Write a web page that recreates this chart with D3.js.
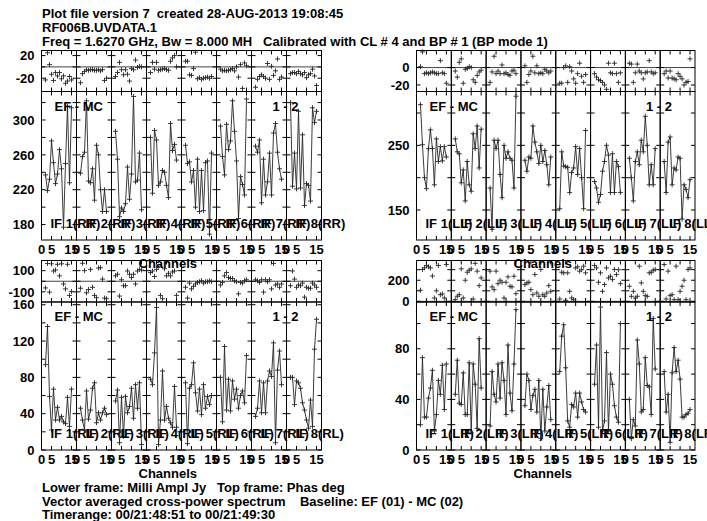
<!DOCTYPE html>
<html><head><meta charset="utf-8">
<script src="https://cdn.jsdelivr.net/npm/d3@7"></script>
<style>
html,body{margin:0;padding:0;background:#fff;}
svg text{font-family:"Liberation Sans",Arial,Helvetica,sans-serif;font-weight:bold;font-size:13px;fill:#000;white-space:pre;}
</style></head><body>
<svg id="chart" width="707" height="521"></svg>
<script>
// Channels kept per IF (edge channels 1 and 16 are dropped)
const channels = [2,3,4,5,6,7,8,9,10,11,12,13,14,15];
const ifNumbers = [1,2,3,4,5,6,7,8];
const channelTickLabels = [0,5,15];
const channelMinorTicks = [5,10,15];

const headerLines = [
  "Plot file version 7  created 28-AUG-2013 19:08:45",
  "RF006B.UVDATA.1",
  "Freq = 1.6270 GHz, Bw = 8.000 MH   Calibrated with CL # 4 and BP # 1 (BP mode 1)"
];
const footerLines = [
  "Lower frame: Milli Ampl Jy   Top frame: Phas deg",
  "Vector averaged cross-power spectrum    Baseline: EF (01) - MC (02)",
  "Timerange: 00/21:48:51 to 00/21:49:30"
];
const baselineLabel = "EF - MC";
const antennaLabel = "1 - 2";

// RR: amplitude (mJy) and phase (deg), one row per IF
const ampRR = [
  [237,219,232,276,251,227,238,266,244,177,250,316,228,314],
  [239,258,263,322,230,228,244,208,271,260,220,195,220,195],
  [287,255,189,199,195,204,246,209,238,327,229,231,262,197],
  [280,216,288,277,225,229,242,240,225,211,296,265,272,254],
  [271,250,252,229,242,200,255,195,242,196,251,253,169,262],
  [293,258,237,295,266,276,322,287,253,187,235,226,214,324],
  [270,263,277,205,255,214,229,262,214,285,296,263,244,232],
  [320,224,262,221,310,222,283,202,227,225,207,314,297,310]
];
const phaseRR = [
  [-23,25,4,-13,-24,-10,-16,-10,-21,-16,-29,-25,-17,-23],
  [-28,-12,-8,-5,-6,-5,-5,-6,-6,-5,-7,-5,-24,-20],
  [-17,-10,8,-5,-14,-5,-13,-25,-3,-5,12,-1,1,0],
  [-10,8,-4,8,-6,-5,-4,-3,-5,-6,10,16,20,0],
  [10,10,-14,-15,-3,26,-21,-19,-22,-20,-19,-18,-20,-17],
  [-4,-7,-6,-7,-6,-5,-3,-7,0,-18,4,-38,7,2],
  [-36,-22,-17,-14,-17,-20,6,-22,1,-15,-7,14,-22,-18],
  [-12,-10,-10,-12,-8,-12,-14,-10,-19,-14,-12,-4,-16,-33]
];

// LL
const ampLL = [
  [313,251,200,183,245,274,245,189,260,225,248,226,248,232],
  [260,240,237,192,212,164,225,189,179,268,245,280,215,275],
  [184,120,258,245,258,205,169,250,230,240,230,227,184,326],
  [227,210,232,230,280,255,240,222,250,225,242,220,189,232],
  [152,240,218,217,216,177,208,215,248,205,245,200,152,273],
  [194,184,162,174,210,225,250,235,177,237,177,225,217,177],
  [230,200,164,225,240,220,258,240,295,250,189,220,189,245],
  [225,177,255,263,189,215,212,232,230,136,189,182,169,197]
];
const phaseLL = [
  [1,18,-7,-6,-7,-6,-5,-6,-7,-7,8,-6,-7,-18],
  [-4,-11,6,10,-18,-2,-1,1,0,-14,-17,-9,-5,-3],
  [-17,-5,13,-7,-4,-7,3,-7,-6,-8,-9,-4,-3,-7],
  [2,-17,-8,-4,13,-6,2,-7,-6,-7,-2,-4,-6,-4],
  [-18,-18,0,2,-17,1,-4,-13,-18,-7,5,-10,-17,-8],
  [-7,-11,-14,-15,-17,-20,-25,5,-6,-7,5,-7,-17,-6],
  [5,4,-17,-6,4,-4,-6,-13,-6,-5,8,-5,-7,-6],
  [-7,-4,-12,-4,-12,-13,-14,-7,-10,-13,-20,-17,-16,10]
];

// RL
const ampRL = [
  [94,136,59,22,67,33,47,33,37,31,29,58,26,67],
  [46,33,22,65,34,44,68,74,30,41,33,41,46,39],
  [54,66,8,58,15,59,41,48,68,35,72,46,74,6],
  [78,72,107,157,6,33,87,33,48,35,30,25,70,25],
  [74,7,68,72,96,63,43,67,39,72,46,59,50,60],
  [80,31,114,44,78,43,76,56,67,46,60,65,52,104],
  [37,46,76,41,74,41,76,87,81,118,8,88,109,72],
  [80,80,50,76,74,68,52,44,33,24,55,26,111,144]
];
const phaseRL = [
  [-63,168,-103,165,97,106,160,51,165,-26,-72,160,-134,-97],
  [-66,170,100,-109,-78,112,-57,-134,-155,125,128,20,-159,-165],
  [51,66,-140,14,-42,-42,97,66,35,66,-26,97,112,106],
  [82,97,45,112,143,-134,-165,118,51,75,51,88,97,-134],
  [-57,-159,-17,-72,-48,-26,-11,-5,5,-17,-5,-5,4,-3],
  [-35,-11,51,82,35,26,26,5,-5,-119,-11,-17,5,14],
  [14,5,-11,14,-103,14,-5,14,-72,168,-35,-26,-57,-26],
  [-42,97,20,-57,-35,-42,-17,-150,-57,-66,-66,-17,-35,-57]
];

// LR
const ampLR = [
  [20,73,26,26,41,49,63,15,28,55,44,67,32,68],
  [44,71,37,36,61,28,28,69,14,68,52,17,88,49],
  [19,62,44,38,68,41,69,55,28,83,45,31,68,111],
  [35,60,55,32,43,48,30,55,9,48,15,34,51,24],
  [62,90,99,65,23,18,36,34,45,26,45,38,32,30],
  [52,83,18,113,15,23,77,15,60,52,35,26,22,100],
  [40,9,24,19,87,68,30,32,73,51,50,28,104,64],
  [62,30,44,6,61,81,62,71,56,26,26,28,29,32]
];
const phaseLR = [
  [105,302,317,340,327,317,240,32,100,340,63,70,32,349],
  [16,48,63,308,32,200,276,295,308,22,360,286,149,222],
  [286,137,111,286,168,200,181,32,181,232,143,137,238,73],
  [159,175,181,111,63,254,79,48,302,63,48,79,149,95],
  [22,276,270,10,270,95,32,16,317,327,286,300,333,270],
  [340,317,181,270,95,159,317,222,238,206,302,254,300,168],
  [143,48,95,32,48,333,175,95,54,48,270,276,295,302],
  [349,22,286,54,63,16,333,16,95,143,200,16,302,317]
];

// Axis ticks and labelled values for each polarization
const ampTicksRR = [180,200,220,240,260,280,300,320], ampLabelsRR = [180,220,260,300];
const phaseTicksRR = [-20,0,20], phaseLabelsRR = [20,-20];
const ampTicksLL = [150,200,250,300], ampLabelsLL = [150,250];
const phaseTicksLL = [-20,0], phaseLabelsLL = [0,-20];
const ampTicksRL = [0,20,40,60,80,100,120,140,160], ampLabelsRL = [0,40,80,120,160];
const phaseTicksRL = [-100,0,100], phaseLabelsRL = [100,-100];
const ampTicksLR = [0,20,40,60,80,100], ampLabelsLR = [0,40,80];
const phaseTicksLR = [0,100,200,300], phaseLabelsLR = [200,0];

// Frame geometry
const cols = { left: {x0: 41.5, x1: 321.5}, right: {x0: 416.5, x1: 695} };
const rows = { top: {p0: 50.5, p1: 91.5, a1: 240}, bottom: {p0: 260.5, p1: 302, a1: 450} };

const panels = [
  {pol:"RR", col:"left",  row:"top",    amp:ampRR, phase:phaseRR, ampDomain:[162.3,332.7], phaseDomain:[-43.5,29],
   ampTicks:ampTicksRR, ampLabels:ampLabelsRR, phaseTicks:phaseTicksRR, phaseLabels:phaseLabelsRR},
  {pol:"LL", col:"right", row:"top",    amp:ampLL, phase:phaseLL, ampDomain:[103.6,333.3], phaseDomain:[-27.5,19.6],
   ampTicks:ampTicksLL, ampLabels:ampLabelsLL, phaseTicks:phaseTicksLL, phaseLabels:phaseLabelsLL},
  {pol:"RL", col:"left",  row:"bottom", amp:ampRL, phase:phaseRL, ampDomain:[0,163], phaseDomain:[-196,196],
   ampTicks:ampTicksRL, ampLabels:ampLabelsRL, phaseTicks:phaseTicksRL, phaseLabels:phaseLabelsRL},
  {pol:"LR", col:"right", row:"bottom", amp:ampLR, phase:phaseLR, ampDomain:[0,117], phaseDomain:[-6,387],
   ampTicks:ampTicksLR, ampLabels:ampLabelsLR, phaseTicks:phaseTicksLR, phaseLabels:phaseLabelsLR}
];

const svg = d3.select("#chart");
svg.append("rect").attr("width",707).attr("height",521).attr("fill","#fff");

const ink = "#000", dataInk = "#262626", tickLen = 4, markHalf = 2.5;
const plus = `M${-markHalf},0H${markHalf}M0,${-markHalf}V${markHalf}`;

// Header and footer text (runs of spaces are kept)
svg.append("g").selectAll("text").data(headerLines).join("text")
  .attr("x", 42).attr("y", (d,i) => 18 + i*13.8).attr("xml:space", "preserve").text(d => d);
svg.append("g").selectAll("text").data(footerLines).join("text")
  .attr("x", 42).attr("y", (d,i) => 492 + i*13.6).attr("xml:space", "preserve").text(d => d);

panels.forEach(p => {
  const c = cols[p.col], r = rows[p.row];
  const w = (c.x1 - c.x0) / ifNumbers.length;
  const g = svg.append("g");
  const yA = d3.scaleLinear().domain(p.ampDomain).range([r.a1, r.p1]);
  const yP = d3.scaleLinear().domain(p.phaseDomain).range([r.p1, r.p0]);

  ifNumbers.forEach((ifn, i) => {
    const sx0 = c.x0 + i*w;
    const x = d3.scaleLinear().domain([0, 17.5]).range([sx0, sx0 + w]);
    const sg = g.append("g");

    // phase zero line
    sg.append("line").attr("x1", sx0).attr("x2", sx0 + w)
      .attr("y1", yP(0)).attr("y2", yP(0)).attr("stroke", "#444").attr("stroke-width", 1);

    // frames
    sg.append("rect").attr("x", sx0).attr("y", r.p0).attr("width", w).attr("height", r.p1 - r.p0)
      .attr("fill", "none").attr("stroke", ink).attr("stroke-width", 1);
    sg.append("rect").attr("x", sx0).attr("y", r.p1).attr("width", w).attr("height", r.a1 - r.p1)
      .attr("fill", "none").attr("stroke", ink).attr("stroke-width", 1);

    // y ticks on both edges of each frame
    const yTick = (vals, scale) => vals.forEach(v => {
      const yy = scale(v);
      sg.append("line").attr("x1", sx0).attr("x2", sx0 + tickLen).attr("y1", yy).attr("y2", yy)
        .attr("stroke", ink).attr("stroke-width", 1);
      sg.append("line").attr("x1", sx0 + w - tickLen).attr("x2", sx0 + w).attr("y1", yy).attr("y2", yy)
        .attr("stroke", ink).attr("stroke-width", 1);
    });
    yTick(p.ampTicks, yA);
    yTick(p.phaseTicks, yP);

    // channel ticks on top and bottom of each frame
    [[r.p0, 1], [r.p1, -1], [r.p1, 1], [r.a1, -1]].forEach(([yy, dir]) => {
      channelMinorTicks.forEach(ch => {
        sg.append("line").attr("x1", x(ch)).attr("x2", x(ch))
          .attr("y1", yy).attr("y2", yy + dir*tickLen).attr("stroke", ink).attr("stroke-width", 1);
      });
    });

    // amplitude spectrum
    const ampVals = p.amp[i];
    const line = d3.line().x((d,j) => x(channels[j])).y(d => yA(d));
    sg.append("path").attr("d", line(ampVals)).attr("fill", "none")
      .attr("stroke", dataInk).attr("stroke-width", 0.9);
    sg.selectAll(null).data(ampVals).join("path")
      .attr("transform", (d,j) => `translate(${x(channels[j])},${yA(d)})`)
      .attr("d", plus).attr("stroke", dataInk).attr("stroke-width", 0.9).attr("fill", "none");

    // phase points
    sg.selectAll(null).data(p.phase[i]).join("path")
      .attr("transform", (d,j) => `translate(${x(channels[j])},${yP(d)})`)
      .attr("d", plus).attr("stroke", dataInk).attr("stroke-width", 0.9).attr("fill", "none");

    // channel labels
    channelTickLabels.forEach(ch => {
      sg.append("text").attr("x", x(ch)).attr("y", r.a1 + 14).attr("text-anchor", "middle").text(ch);
    });

    // IF label
    sg.append("text").attr("x", sx0 + 9).attr("y", r.a1 - 12).text(`IF ${ifn}(${p.pol})`);
  });

  // amplitude and phase axis labels
  g.selectAll(null).data(p.ampLabels).join("text")
    .attr("x", c.x0 - 7).attr("y", d => yA(d)).attr("dy", "0.36em").attr("text-anchor", "end").text(d => d);
  g.selectAll(null).data(p.phaseLabels).join("text")
    .attr("x", c.x0 - 7).attr("y", d => yP(d)).attr("dy", "0.36em").attr("text-anchor", "end").text(d => d);

  g.append("text").attr("x", c.x0 + 13).attr("y", r.p1 + 19).text(baselineLabel);
  g.append("text").attr("x", c.x1 - 36).attr("y", r.p1 + 19).attr("text-anchor", "middle").text(antennaLabel);
  g.append("text").attr("x", c.x0 + 97).attr("y", r.a1 + 27.5).text("Channels");
});
</script></body></html>
